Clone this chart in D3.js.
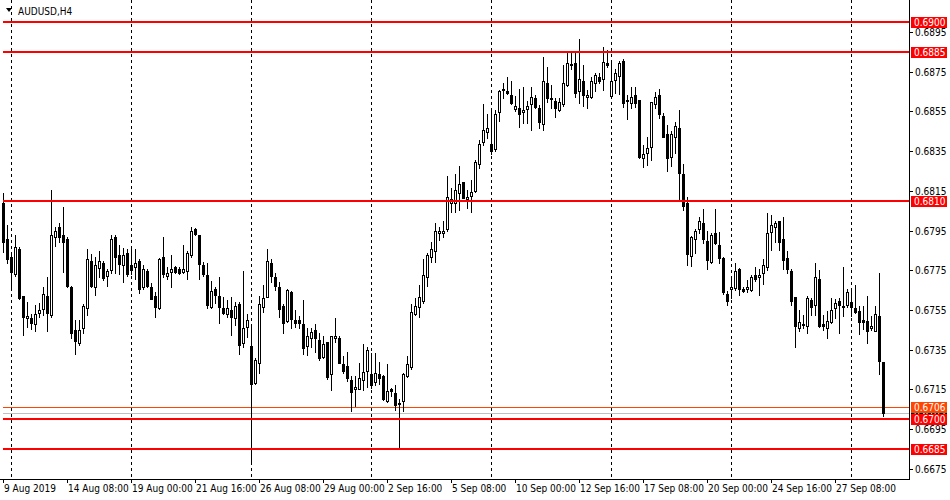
<!DOCTYPE html>
<html>
<head>
<meta charset="utf-8">
<script src="https://cdn.jsdelivr.net/npm/d3@7"></script>
<style>
html,body{margin:0;padding:0;background:#fff;}
svg{display:block;}
text{font-family:"DejaVu Sans Condensed","Liberation Sans",sans-serif;font-size:10px;}
</style>
</head>
<body>
<svg id="chart" width="950" height="500"></svg>
<script>
const symbol = "AUDUSD,H4";
const timeLabels = ["9 Aug 2019","14 Aug 08:00","19 Aug 00:00","21 Aug 16:00","26 Aug 08:00","29 Aug 00:00","2 Sep 16:00","5 Sep 08:00","10 Sep 00:00","12 Sep 16:00","17 Sep 08:00","20 Sep 00:00","24 Sep 16:00","27 Sep 08:00"];
const timeLabelBars = [0,16,32,48,64,80,96,112,128,144,160,176,192,208];
const weekStartBars = [2,32,62,92,122,152,182,212];
const priceTicks = [0.6895,0.6875,0.6855,0.6835,0.6815,0.6795,0.6775,0.6755,0.6735,0.6715,0.6695,0.6675];
const levels = [0.6900,0.6885,0.6810,0.6700,0.6685];
const askPrice = 0.6706;
const bidPrice = 0.6703;

const open = [0.68087,0.67906,0.67815,0.67731,0.67855,0.67620,0.67508,0.67510,0.67478,0.67537,
0.67557,0.67620,0.67527,0.67916,0.67966,0.67928,0.67907,0.67666,0.67449,0.67386,
0.67458,0.67558,0.67798,0.67664,0.67763,0.67785,0.67723,0.67751,0.67916,0.67827,
0.67775,0.67835,0.67777,0.67765,0.67797,0.67664,0.67746,0.67664,0.67620,0.67558,
0.67815,0.67723,0.67743,0.67765,0.67755,0.67743,0.67745,0.67825,0.67956,0.67926,
0.67777,0.67726,0.67567,0.67654,0.67620,0.67558,0.67530,0.67550,0.67508,0.67580,
0.67386,0.67466,0.67369,0.67184,0.67285,0.67567,0.67617,0.67785,0.67714,0.67664,
0.67570,0.67496,0.67639,0.67500,0.67500,
0.67480,0.67369,0.67408,0.67450,0.67399,0.67315,0.67388,0.67226,0.67408,0.67408,
0.67277,0.67268,0.67198,0.67151,0.67151,0.67195,0.67245,0.67226,0.67185,0.67226,
0.67218,0.67092,0.67151,0.67131,0.67084,0.67092,0.67218,0.67265,0.67530,0.67564,
0.67597,0.67715,0.67816,0.67849,0.67936,0.67936,0.67956,0.68090,0.68087,0.68141,
0.68194,0.68107,0.68126,0.68151,0.68284,0.68394,0.68445,0.68384,0.68361,0.68545,
0.68658,0.68653,0.68632,0.68564,0.68565,0.68547,0.68564,0.68587,0.68616,0.68565,
0.68485,0.68691,0.68619,0.68604,0.68557,0.68587,0.68683,0.68787,0.68792,0.68653,
0.68703,0.68621,0.68621,0.68691,0.68722,
0.68712,0.68795,0.68629,0.68708,0.68730,0.68804,0.68608,0.68594,0.68631,0.68608,
0.68314,0.68342,0.68373,0.68587,0.68632,0.68527,0.68436,0.68322,0.68423,0.68465,
0.68233,0.68091,0.67824,0.67906,0.67956,0.67987,0.67898,0.67794,0.67939,0.67878,
0.67811,0.67629,0.67655,0.67660,0.67757,0.67655,0.67655,0.67651,0.67727,0.67715,
0.67735,0.67764,0.67945,0.67970,0.67998,0.67908,0.67814,0.67748,0.67613,0.67458,
0.67475,0.67467,0.67601,0.67576,0.67707,0.67480,0.67458,0.67488,0.67559,0.67597,
0.67572,0.67576,0.67592,0.67559,0.67547,0.67500,0.67497,0.67458,0.67446,0.67520,
0.67287];

const high = [0.68137,0.67978,0.67827,0.67928,0.67865,0.67620,0.67589,0.67530,0.67575,0.67584,
0.67667,0.67718,0.68154,0.67970,0.67990,0.68070,0.67919,0.67671,0.67500,0.67500,
0.67579,0.67855,0.67832,0.67819,0.67849,0.67797,0.67755,0.67926,0.67928,0.67877,
0.67860,0.67855,0.67860,0.67855,0.67805,0.67777,0.67755,0.67684,0.67642,0.67813,
0.67916,0.67765,0.67827,0.67770,0.67765,0.67877,0.67847,0.67970,0.67961,0.67928,
0.67793,0.67785,0.67698,0.67664,0.67714,0.67614,0.67600,0.67617,0.67589,0.67592,
0.67746,0.67530,0.67480,0.67307,0.67620,0.67676,0.67855,0.67805,0.67735,0.67693,
0.67580,0.67654,0.67647,0.67550,0.67520,
0.67601,0.67458,0.67458,0.67478,0.67436,0.67419,0.67391,0.67419,0.67508,0.67419,
0.67319,0.67337,0.67218,0.67218,0.67285,0.67379,0.67366,0.67332,0.67331,0.67287,
0.67223,0.67277,0.67156,0.67173,0.67101,0.67231,0.67319,0.67581,0.67609,0.67676,
0.67806,0.67839,0.67894,0.67987,0.67970,0.67998,0.68226,0.68163,0.68233,0.68275,
0.68196,0.68154,0.68205,0.68306,0.68406,0.68587,0.68537,0.68557,0.68557,0.68658,
0.68695,0.68722,0.68703,0.68627,0.68661,0.68671,0.68602,0.68671,0.68632,0.68582,
0.68822,0.68775,0.68683,0.68619,0.68616,0.68784,0.68846,0.68846,0.68846,0.68914,
0.68784,0.68658,0.68722,0.68745,0.68742,
0.68876,0.68859,0.68800,0.68762,0.68804,0.68812,0.68632,0.68671,0.68674,0.68608,
0.68381,0.68420,0.68599,0.68650,0.68661,0.68544,0.68482,0.68452,0.68495,0.68557,
0.68285,0.68121,0.67923,0.67958,0.68017,0.68057,0.67950,0.67939,0.68057,0.67945,
0.67816,0.67646,0.67710,0.67785,0.67760,0.67668,0.67701,0.67727,0.67765,0.67755,
0.67806,0.68040,0.68029,0.67998,0.67998,0.68017,0.67849,0.67755,0.67613,0.67550,
0.67525,0.67618,0.67609,0.67785,0.67752,0.67525,0.67547,0.67609,0.67604,0.67609,
0.67765,0.67655,0.67655,0.67676,0.67570,0.67570,0.67621,0.67520,0.67570,0.67735,
0.67287];

const low = [0.67844,0.67785,0.67667,0.67721,0.67604,0.67424,0.67466,0.67454,0.67446,0.67516,
0.67525,0.67446,0.67516,0.67872,0.67894,0.67743,0.67664,0.67407,0.67327,0.67374,
0.67436,0.67525,0.67667,0.67626,0.67718,0.67701,0.67671,0.67738,0.67735,0.67731,
0.67693,0.67721,0.67731,0.67704,0.67637,0.67656,0.67667,0.67604,0.67516,0.67553,
0.67718,0.67704,0.67664,0.67738,0.67729,0.67738,0.67704,0.67819,0.67928,0.67704,
0.67721,0.67558,0.67558,0.67584,0.67486,0.67530,0.67513,0.67424,0.67475,0.67327,
0.67365,0.67416,0.66780,0.67178,0.67231,0.67542,0.67614,0.67693,0.67651,0.67516,
0.67436,0.67491,0.67458,0.67466,0.67460,
0.67329,0.67324,0.67366,0.67336,0.67299,0.67307,0.67201,0.67147,0.67391,0.67282,
0.67232,0.67190,0.67039,0.67067,0.67151,0.67147,0.67161,0.67156,0.67173,0.67178,
0.67097,0.67089,0.67118,0.67047,0.66854,0.67039,0.67212,0.67255,0.67525,0.67517,
0.67587,0.67671,0.67794,0.67794,0.67903,0.67916,0.67948,0.68045,0.68045,0.68054,
0.68112,0.68062,0.68045,0.68146,0.68264,0.68381,0.68414,0.68334,0.68352,0.68503,
0.68616,0.68638,0.68587,0.68552,0.68473,0.68493,0.68493,0.68456,0.68565,0.68465,
0.68456,0.68599,0.68565,0.68524,0.68554,0.68577,0.68680,0.68762,0.68621,0.68594,
0.68577,0.68565,0.68616,0.68655,0.68691,
0.68658,0.68775,0.68624,0.68641,0.68638,0.68574,0.68512,0.68565,0.68570,0.68314,
0.68272,0.68280,0.68306,0.68565,0.68515,0.68420,0.68252,0.68275,0.68342,0.68101,
0.68054,0.67777,0.67772,0.67836,0.67940,0.67886,0.67755,0.67785,0.67882,0.67785,
0.67631,0.67576,0.67609,0.67651,0.67626,0.67638,0.67643,0.67648,0.67698,0.67626,
0.67681,0.67752,0.67853,0.67894,0.67853,0.67755,0.67738,0.67576,0.67366,0.67446,
0.67458,0.67436,0.67525,0.67525,0.67463,0.67450,0.67408,0.67483,0.67508,0.67436,
0.67520,0.67567,0.67520,0.67534,0.67430,0.67453,0.67386,0.67450,0.67445,0.67227,
0.67017];

const close = [0.67894,0.67805,0.67743,0.67865,0.67609,0.67516,0.67520,0.67486,0.67528,0.67550,
0.67629,0.67537,0.67928,0.67948,0.67916,0.67894,0.67671,0.67436,0.67396,0.67448,
0.67570,0.67805,0.67671,0.67775,0.67797,0.67713,0.67748,0.67906,0.67815,0.67783,
0.67825,0.67730,0.67751,0.67785,0.67654,0.67755,0.67671,0.67607,0.67567,0.67805,
0.67731,0.67735,0.67755,0.67743,0.67735,0.67755,0.67835,0.67948,0.67933,0.67783,
0.67731,0.67575,0.67647,0.67626,0.67567,0.67537,0.67558,0.67516,0.67570,0.67376,
0.67458,0.67500,0.67176,0.67298,0.67580,0.67612,0.67797,0.67721,0.67671,0.67557,
0.67486,0.67651,0.67506,0.67486,0.67486,
0.67357,0.67419,0.67438,0.67408,0.67307,0.67379,0.67215,0.67419,0.67419,0.67285,
0.67245,0.67205,0.67139,0.67161,0.67206,0.67240,0.67346,0.67173,0.67235,0.67206,
0.67101,0.67143,0.67143,0.67072,0.67077,0.67226,0.67279,0.67539,0.67571,0.67613,
0.67727,0.67827,0.67856,0.67948,0.67948,0.67948,0.68117,0.68107,0.68154,0.68184,
0.68116,0.68117,0.68143,0.68294,0.68384,0.68456,0.68465,0.68352,0.68537,0.68653,
0.68663,0.68641,0.68594,0.68577,0.68535,0.68557,0.68577,0.68621,0.68574,0.68495,
0.68703,0.68619,0.68614,0.68565,0.68597,0.68691,0.68792,0.68782,0.68641,0.68712,
0.68632,0.68632,0.68703,0.68733,0.68703,
0.68800,0.68782,0.68703,0.68742,0.68792,0.68594,0.68602,0.68621,0.68594,0.68322,
0.68334,0.68364,0.68596,0.68621,0.68535,0.68423,0.68314,0.68436,0.68477,0.68242,
0.68074,0.67832,0.67916,0.67948,0.67998,0.67906,0.67802,0.67928,0.67886,0.67814,
0.67638,0.67597,0.67665,0.67748,0.67655,0.67648,0.67665,0.67715,0.67705,0.67727,
0.67777,0.67939,0.67978,0.67990,0.67894,0.67802,0.67755,0.67597,0.67467,0.67488,
0.67480,0.67609,0.67567,0.67715,0.67467,0.67467,0.67497,0.67550,0.67587,0.67576,
0.67567,0.67639,0.67564,0.67539,0.67487,0.67488,0.67446,0.67470,0.67529,0.67294,
0.67030];

const bars = open.map((o,i)=>({i, o, h:high[i], l:low[i], c:close[i]}));

const svg = d3.select("#chart");
const W = 950, H = 500;
const plotRight = 909, plotBottom = 479;

const x = d3.scaleLinear().domain([0, bars.length-1]).range([3, 3 + 4*(bars.length-1)]);
const y = d3.scaleLinear().domain([0.6685, 0.6900]).range([449, 22]);
const py = p => Math.round(y(p));

svg.append("rect").attr("width",W).attr("height",H).attr("fill","#fff");

// week separators (dashed)
svg.append("g").selectAll("line").data(weekStartBars).join("line")
  .attr("x1",d=>x(d)+0.5).attr("x2",d=>x(d)+0.5)
  .attr("y1",0).attr("y2",plotBottom)
  .attr("stroke","#000").attr("stroke-width",1).attr("stroke-dasharray","3,3");

// bid/ask lines
svg.append("line").attr("x1",3).attr("x2",plotRight).attr("y1",py(bidPrice)+0.5).attr("y2",py(bidPrice)+0.5)
  .attr("stroke","#c0c0c0").attr("stroke-width",1);
svg.append("line").attr("x1",3).attr("x2",plotRight).attr("y1",py(askPrice)+0.5).attr("y2",py(askPrice)+0.5)
  .attr("stroke","#ff4500").attr("stroke-width",1);

// candles
const g = svg.append("g");
g.selectAll("rect.wick").data(bars).join("rect").attr("class","wick")
  .attr("x",d=>x(d.i)).attr("width",1)
  .attr("y",d=>py(d.h)).attr("height",d=>Math.max(1,py(d.l)-py(d.h)+1))
  .attr("fill","#000");
g.selectAll("rect.body").data(bars).join("rect").attr("class","body")
  .attr("x",d=>x(d.i)-1).attr("width",3)
  .attr("y",d=>py(Math.max(d.o,d.c)))
  .attr("height",d=>Math.max(1,py(Math.min(d.o,d.c))-py(Math.max(d.o,d.c))+1))
  .attr("fill","#000");
g.selectAll("rect.inner").data(bars.filter(d=>d.c>d.o && py(d.o)-py(d.c)>=2)).join("rect").attr("class","inner")
  .attr("x",d=>x(d.i)).attr("width",1)
  .attr("y",d=>py(d.c)+1)
  .attr("height",d=>py(d.o)-py(d.c)-1)
  .attr("fill","#fff");

// level lines
svg.append("g").selectAll("rect").data(levels).join("rect")
  .attr("x",3).attr("width",plotRight-3)
  .attr("y",d=>py(d)-1).attr("height",2).attr("fill","#ff0000");

// frame
svg.append("line").attr("x1",plotRight+0.5).attr("x2",plotRight+0.5).attr("y1",0).attr("y2",plotBottom+1)
  .attr("stroke","#000");
svg.append("line").attr("x1",0).attr("x2",plotRight+1).attr("y1",plotBottom+0.5).attr("y2",plotBottom+0.5)
  .attr("stroke","#000");

// right price axis
const ya = svg.append("g");
ya.selectAll("line").data(priceTicks).join("line")
  .attr("x1",plotRight+1).attr("x2",plotRight+4)
  .attr("y1",d=>py(d)+0.5).attr("y2",d=>py(d)+0.5).attr("stroke","#000");
ya.selectAll("text").data(priceTicks).join("text")
  .attr("x",915).attr("y",d=>py(d)+4).attr("fill","#000")
  .text(d=>d.toFixed(4));

// price labels
function tag(p, bg, fg){
  const yy = py(p);
  svg.append("rect").attr("x",911).attr("y",yy-5).attr("width",36).attr("height",11).attr("fill",bg);
  svg.append("text").attr("x",914).attr("y",yy+4).attr("fill",fg).text(p.toFixed(4));
}
tag(bidPrice, "#000000", "#ffffff");
tag(askPrice, "#ff4500", "#ffffff");
levels.forEach(p=>tag(p, "#ff0000", "#ffffff"));

// bottom time axis
const xa = svg.append("g");
xa.selectAll("line").data(timeLabelBars).join("line")
  .attr("x1",d=>x(d)+0.5).attr("x2",d=>x(d)+0.5)
  .attr("y1",plotBottom+1).attr("y2",plotBottom+4).attr("stroke","#000");
xa.selectAll("text").data(timeLabels).join("text")
  .attr("x",(d,k)=>x(timeLabelBars[k])+1).attr("y",492).attr("fill","#000")
  .text(d=>d);

// title
svg.append("path").attr("d","M6,8 L12,8 L9,12 Z").attr("fill","#000");
svg.append("text").attr("x",18).attr("y",15).attr("fill","#000").text(symbol);
</script>
</body>
</html>
